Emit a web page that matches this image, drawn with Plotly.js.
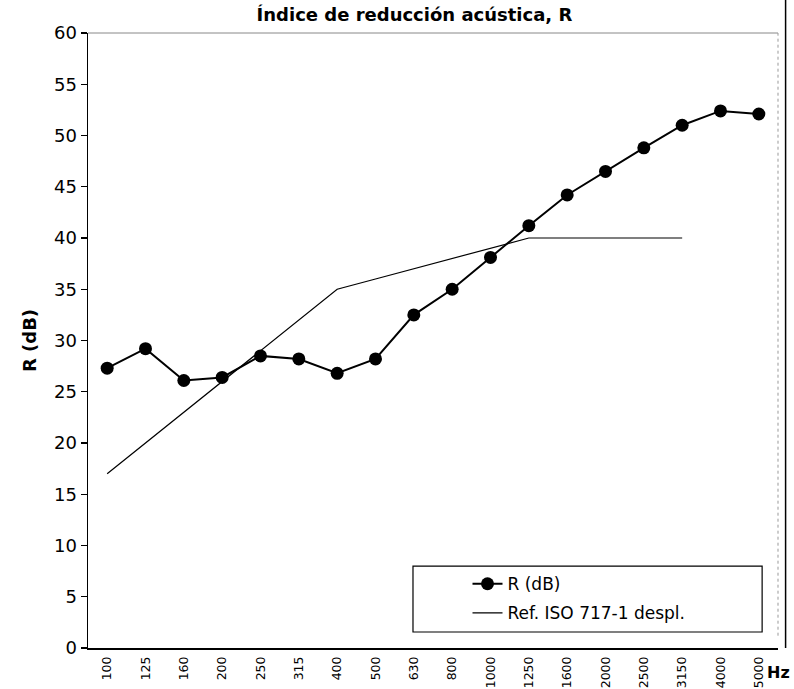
<!DOCTYPE html>
<html>
<head>
<meta charset="utf-8">
<script src="https://cdn.plot.ly/plotly-3.0.1.min.js"></script>
<style>html,body{margin:0;padding:0;background:#fff;}#chart{width:794px;height:689px;}</style>
</head>
<body>
<div id="chart"></div>
<script>
// Frequency bands (Hz)
const frequencies = ["100","125","160","200","250","315","400","500","630","800","1000","1250","1600","2000","2500","3150","4000","5000"];
// Measured sound reduction index R (dB)
const rValues = [27.3, 29.2, 26.1, 26.4, 28.5, 28.2, 26.8, 28.2, 32.5, 35.0, 38.1, 41.2, 44.2, 46.5, 48.8, 51.0, 52.4, 52.1];
// Shifted ISO 717-1 reference curve (100 Hz .. 3150 Hz)
const refFrequencies = ["100","125","160","200","250","315","400","500","630","800","1000","1250","1600","2000","2500","3150"];
const refValues = [17, 20, 23, 26, 29, 32, 35, 36, 37, 38, 39, 40, 40, 40, 40, 40];
// Boundary tick marks every third band
const boundaryTicks = [-0.5, 2.5, 5.5, 8.5, 11.5, 14.5, 17.5];
const yTicks = [0,5,10,15,20,25,30,35,40,45,50,55,60];

const FONT = "DejaVu Sans, Verdana, sans-serif";

const traces = [
  {
    x: frequencies, y: rValues, name: "R (dB)", type: "scatter", mode: "lines+markers",
    line: {color: "#000", width: 2}, marker: {color: "#000", size: 13, symbol: "circle"},
    legendgroup: "a"
  },
  {
    x: refFrequencies, y: refValues, name: "Ref. ISO 717-1 despl.", type: "scatter", mode: "lines",
    line: {color: "#000", width: 1.2}, legendgroup: "b"
  }
];

const layout = {
  width: 794, height: 689,
  margin: {l: 88, r: 16, t: 33, b: 41},
  paper_bgcolor: "#fff", plot_bgcolor: "#fff",
  font: {family: FONT, color: "#000"},
  title: {
    text: "<b>Índice de reducción acústica, R</b>",
    font: {family: FONT, size: 18, color: "#000"},
    x: 0.522, xref: "container", xanchor: "center",
    y: 0.978, yref: "container", yanchor: "middle"
  },
  xaxis: {
    type: "category", categoryarray: frequencies, categoryorder: "array",
    range: [-0.5, 17.5], showgrid: false, zeroline: false,
    showline: true, linecolor: "#000", linewidth: 1.5,
    ticks: "", tickangle: -90, ticklabelstandoff: 2,
    tickfont: {family: FONT, size: 12.5, color: "#000"},
    automargin: false, fixedrange: true
  },
  xaxis2: {
    type: "linear", overlaying: "x", anchor: "y", side: "bottom",
    range: [-0.5, 17.5], tickmode: "array", tickvals: boundaryTicks,
    showticklabels: false, ticks: "outside", ticklen: 7, tickwidth: 1.5, tickcolor: "#000",
    showgrid: false, zeroline: false, showline: false, fixedrange: true
  },
  yaxis: {
    range: [0, 60], tickmode: "array", tickvals: yTicks,
    showgrid: false, zeroline: false,
    showline: true, linecolor: "#000", linewidth: 1.5,
    ticks: "outside", ticklen: 6, tickwidth: 1.2, tickcolor: "#000",
    tickfont: {family: FONT, size: 18, color: "#000"},
    title: {text: "<b>R (dB)</b>", font: {family: FONT, size: 18, color: "#000"}, standoff: 12},
    automargin: false, fixedrange: true
  },
  showlegend: true,
  legend: {
    x: 0.55, xanchor: "left", y: 0.133, yanchor: "top",
    bgcolor: "rgba(0,0,0,0)", borderwidth: 0,
    font: {family: FONT, size: 17, color: "#000"},
    tracegroupgap: 4
  },
  shapes: [
    {type: "rect", xref: "paper", yref: "paper", x0: 0.471, x1: 0.977, y0: 0.026, y1: 0.133,
     line: {color: "#000", width: 1.2}, fillcolor: "rgba(0,0,0,0)", layer: "above"},
    {type: "line", xref: "paper", yref: "paper", x0: 0, x1: 1, y0: 1, y1: 1,
     line: {color: "#888", width: 1}},
    {type: "line", xref: "paper", yref: "paper", x0: 1, x1: 1, y0: 0.02, y1: 1,
     line: {color: "#999", width: 1, dash: "dot"}},
    {type: "line", xref: "paper", yref: "paper", x0: 1.011, x1: 1.011, y0: 0.0, y1: 1.06,
     line: {color: "#000", width: 1.5}}
  ],
  annotations: [
    {text: "<b>Hz</b>", xref: "paper", yref: "paper", x: 1.021, y: -0.04,
     xanchor: "right", yanchor: "middle", showarrow: false,
     font: {family: FONT, size: 16, color: "#000"}}
  ]
};

Plotly.newPlot("chart", traces, layout, {displayModeBar: false, staticPlot: true});
</script>
</body>
</html>
